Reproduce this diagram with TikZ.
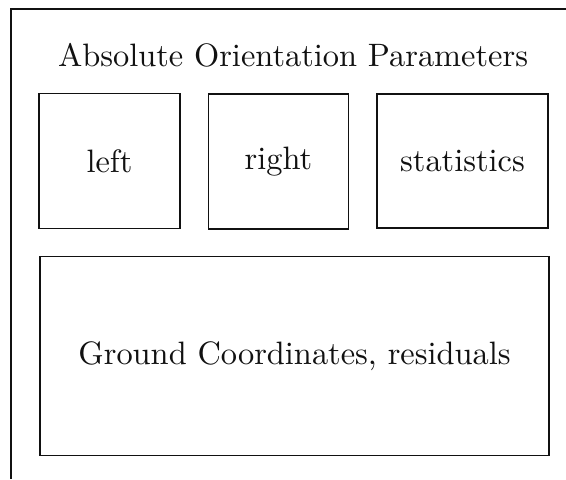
\documentclass[tikz,border=0pt]{standalone}
\usepackage{fontspec}
\setmainfont{lmroman10-regular.otf}
\usepackage{xcolor}
\definecolor{ink}{HTML}{111111}

\begin{document}
\begin{tikzpicture}[x=0.5pt, y=-0.5pt,
        every node/.style={font=\fontsize{16.2}{19}\selectfont, text=ink}]
      \useasboundingbox (0,0) rectangle (566,479);
      \tikzset{panel/.style={draw=ink, line width=0.9pt, inner sep=0pt,
            align=center}}
      % frame of the page part
      \draw[ink, line width=0.9pt] (566,9) -- (11,9) -- (11,479);
      \node[anchor=base] (TITLE) at (293,66) {Absolute Orientation Parameters};
      \node[panel, minimum width=70.5pt, minimum height=67.5pt]
            (LEFT) at (109.5,161) {left};
      \node[panel, minimum width=70pt, minimum height=67.5pt]
            (RIGHT) at (278.5,161.5) {right};
      \node[panel, minimum width=85.5pt, minimum height=67pt]
            (STATS) at (462.5,161) {statistics};
      \node[panel, minimum width=254.5pt, minimum height=99.5pt]
            (GROUND) at (294.5,356) {Ground Coordinates, residuals};
    \end{tikzpicture}
\end{document}
